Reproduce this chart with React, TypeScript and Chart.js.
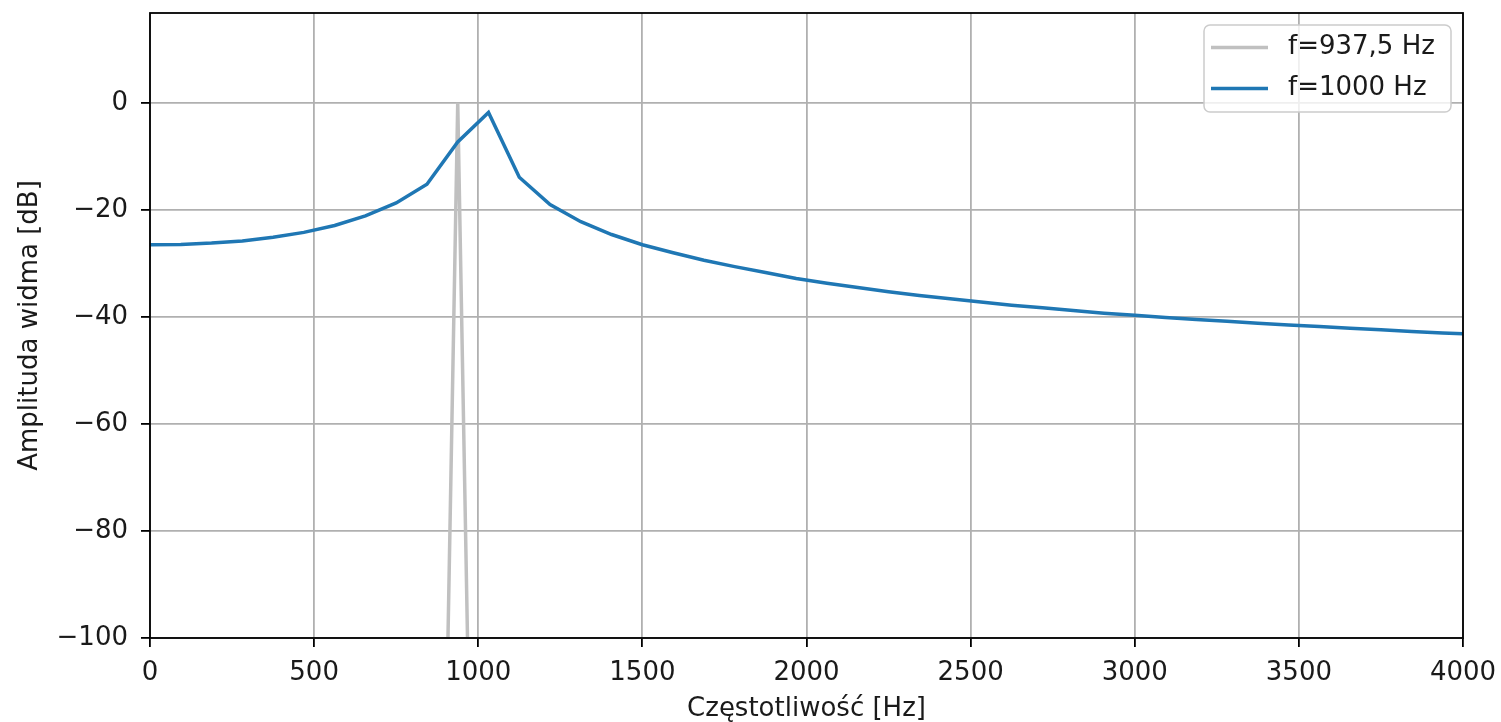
import React, { useEffect, useRef } from 'react';
import { Chart, registerables } from 'chart.js';

Chart.register(...registerables);

// ---- data ----
const blueFreqs = [
  0, 93.75, 187.5, 281.25, 375, 468.75, 562.5, 656.25, 750, 843.75,
  937.5, 1031.25, 1125, 1218.75, 1312.5, 1406.25, 1500, 1593.75, 1687.5, 1781.25,
  1875, 1968.75, 2062.5, 2156.25, 2250, 2343.75, 2437.5, 2531.25, 2625, 2718.75,
  2812.5, 2906.25, 3000, 3093.75, 3187.5, 3281.25, 3375, 3468.75, 3562.5, 3656.25,
  3750, 3843.75, 3937.5, 4031.25,
];
const blueDb = [
  -26.5, -26.45, -26.2, -25.8, -25.1, -24.2, -22.9, -21.1, -18.7, -15.2,
  -7.3, -1.8, -13.9, -19.0, -22.2, -24.6, -26.5, -28.0, -29.4, -30.6,
  -31.7, -32.8, -33.7, -34.5, -35.3, -36.0, -36.6, -37.2, -37.8, -38.3,
  -38.8, -39.3, -39.7, -40.1, -40.5, -40.8, -41.2, -41.5, -41.8, -42.1,
  -42.4, -42.7, -43.0, -43.2,
];
const grayFreqs = [906.25, 937.5, 968.75];
const grayDb = [-105, 0, -105];

const seriesLabels = ['f=937,5 Hz', 'f=1000 Hz'];
const xTicks = [0, 500, 1000, 1500, 2000, 2500, 3000, 3500, 4000];
const yTicks = [-100, -80, -60, -40, -20, 0];
const xTitle = 'Częstotliwość [Hz]';
const yTitle = 'Amplituda widma [dB]';

const FONT = 'DejaVu Sans';
const TEXT = '#1a1a1a';

const fmt = (v: number) => (v < 0 ? '\u2212' + Math.abs(v) : String(v));

const framePlugin = {
  id: 'mplFrame',
  afterDatasetsDraw(chart: any) {
    const { ctx, chartArea: a } = chart;
    ctx.save();
    ctx.strokeStyle = '#000';
    ctx.lineWidth = 1.8;
    ctx.strokeRect(a.left, a.top, a.right - a.left, a.bottom - a.top);
    ctx.restore();
  },
  afterDraw(chart: any) {
    const { ctx } = chart;
    const ds = chart.data.datasets;
    ctx.save();
    const x0 = 1204, y0 = 25, w = 247, h = 87, r = 6;
    ctx.beginPath();
    ctx.moveTo(x0 + r, y0);
    ctx.arcTo(x0 + w, y0, x0 + w, y0 + h, r);
    ctx.arcTo(x0 + w, y0 + h, x0, y0 + h, r);
    ctx.arcTo(x0, y0 + h, x0, y0, r);
    ctx.arcTo(x0, y0, x0 + w, y0, r);
    ctx.closePath();
    ctx.fillStyle = 'rgba(255,255,255,0.8)';
    ctx.fill();
    ctx.strokeStyle = '#cccccc';
    ctx.lineWidth = 1.5;
    ctx.stroke();
    const rows = [47.5, 88.5];
    ds.forEach((d: any, i: number) => {
      const y = rows[i];
      ctx.beginPath();
      ctx.moveTo(1211, y);
      ctx.lineTo(1268, y);
      ctx.strokeStyle = d.borderColor;
      ctx.lineWidth = d.borderWidth;
      ctx.stroke();
      ctx.fillStyle = TEXT;
      ctx.font = `26px "${FONT}"`;
      ctx.textAlign = 'left';
      ctx.textBaseline = 'middle';
      ctx.fillText(d.label, 1288, y);
    });
    ctx.restore();
  },
};

export default function App() {
  const ref = useRef<HTMLCanvasElement | null>(null);
  useEffect(() => {
    document.body.style.margin = '0';
    const canvas = ref.current!;
    const chart = new Chart(canvas, {
      type: 'line',
      data: {
        datasets: [
          {
            label: seriesLabels[0],
            data: grayFreqs.map((x, i) => ({ x, y: grayDb[i] })),
            borderColor: '#c0c0c0',
            borderWidth: 3.5,
            pointRadius: 0,
            tension: 0,
            clip: 0,
            order: 2,
          },
          {
            label: seriesLabels[1],
            data: blueFreqs.map((x, i) => ({ x, y: blueDb[i] })),
            borderColor: '#1f77b4',
            borderWidth: 3.5,
            pointRadius: 0,
            tension: 0,
            clip: 0,
            order: 1,
          },
        ],
      },
      options: {
        responsive: false,
        animation: false,
        events: [],
        layout: { padding: { top: 13, right: 38, left: 0, bottom: 0 } },
        plugins: { legend: { display: false }, tooltip: { enabled: false } },
        scales: {
          x: {
            type: 'linear',
            min: 0,
            max: 4000,
            afterBuildTicks: (s: any) => { s.ticks = xTicks.map((v) => ({ value: v })); },
            afterFit: (s: any) => { s.height = 84; s.paddingLeft = 0; s.paddingRight = 0; },
            border: { display: false },
            grid: { color: '#b0b0b0', lineWidth: 1.8, tickColor: '#000', tickWidth: 1.8, tickLength: 9 },
            ticks: {
              padding: 11,
              color: TEXT,
              font: { family: FONT, size: 26 },
              maxRotation: 0,
              autoSkip: false,
              callback: (v: any) => fmt(Number(v)),
            },
            title: { display: true, text: xTitle, color: TEXT, font: { family: FONT, size: 26 }, padding: { top: 0, bottom: -3 } },
          },
          y: {
            type: 'linear',
            min: -100,
            max: 16.8,
            afterBuildTicks: (s: any) => { s.ticks = yTicks.map((v) => ({ value: v })); },
            afterFit: (s: any) => { s.width = 150; s.paddingTop = 0; s.paddingBottom = 0; },
            border: { display: false },
            grid: { color: '#b0b0b0', lineWidth: 1.8, tickColor: '#000', tickWidth: 1.8, tickLength: 9 },
            ticks: {
              padding: 13,
              color: TEXT,
              font: { family: FONT, size: 26 },
              autoSkip: false,
              callback: (v: any) => fmt(Number(v)),
            },
            title: { display: true, text: yTitle, color: TEXT, font: { family: FONT, size: 26 }, padding: { top: 15, bottom: 0 } },
          },
        },
      },
      plugins: [framePlugin],
    } as any);
    return () => chart.destroy();
  }, []);
  return (
    <div style={{ width: 1501, height: 722 }}>
      <canvas ref={ref} width={1501} height={722} style={{ display: 'block' }} />
    </div>
  );
}
